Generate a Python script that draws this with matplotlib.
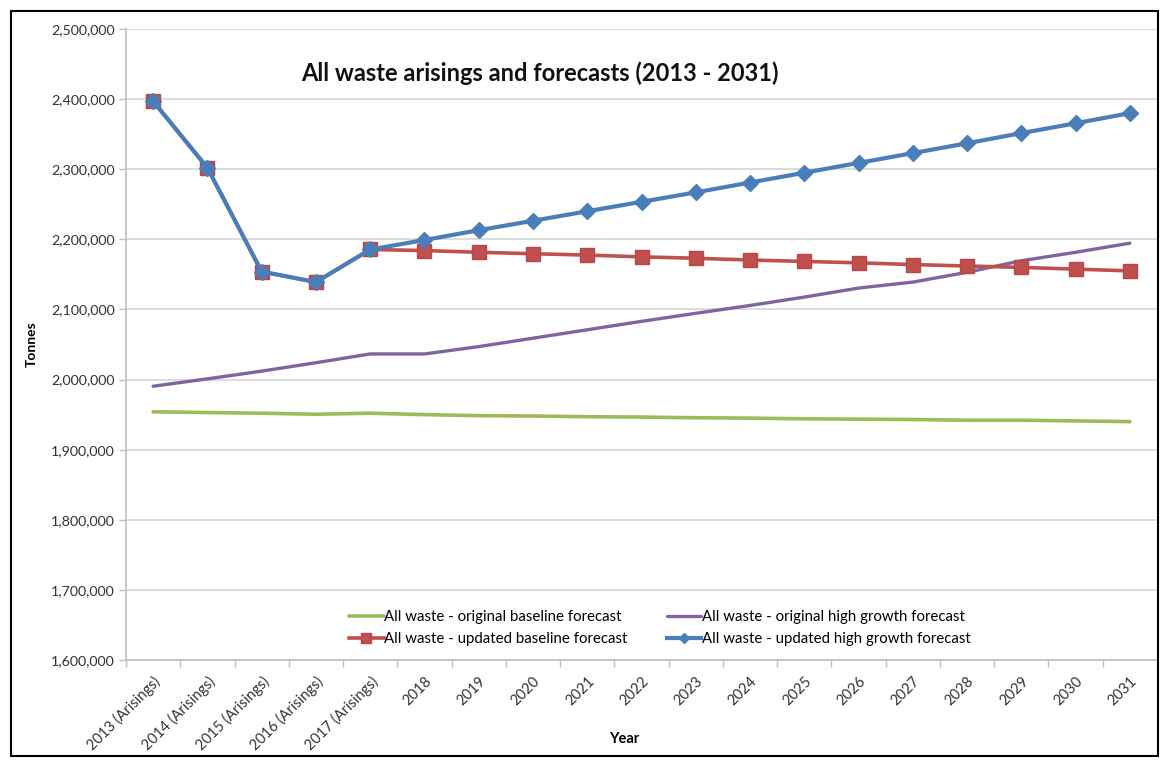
import matplotlib
matplotlib.use("Agg")
import matplotlib.pyplot as plt
from matplotlib.patches import Rectangle
from matplotlib.ticker import FuncFormatter, FixedLocator, NullFormatter

plt.rcParams['font.family'] = ['Lato', 'DejaVu Sans']

categories = ["2013 (Arisings)", "2014 (Arisings)", "2015 (Arisings)", "2016 (Arisings)",
              "2017 (Arisings)", "2018", "2019", "2020", "2021", "2022", "2023", "2024",
              "2025", "2026", "2027", "2028", "2029", "2030", "2031"]

orig_baseline = [1954000, 1953000, 1952000, 1950500, 1952000, 1950000, 1948500, 1948000,
                 1947000, 1946500, 1945500, 1945000, 1944000, 1943500, 1943000, 1942000,
                 1942000, 1941000, 1940000]
orig_high = [1990500, 2001000, 2012000, 2024000, 2036500, 2036500, 2047000, 2059000,
             2071000, 2083000, 2094500, 2105700, 2117600, 2130500, 2139000, 2153000,
             2169500, 2181500, 2194500]
upd_baseline = [2397000, 2302000, 2154000, 2139000, 2185500, 2184000, 2181500, 2179500,
                2177500, 2175000, 2173000, 2170500, 2168500, 2166500, 2164000, 2162000,
                2160000, 2157500, 2155000]
upd_high = [2397000, 2302000, 2154000, 2139000, 2185500, 2199000, 2213000, 2226500,
            2240000, 2253500, 2267000, 2281000, 2295000, 2309000, 2323000, 2337000,
            2351500, 2365500, 2380000]

labels = ["All waste - original baseline forecast",
          "All waste - updated baseline forecast",
          "All waste - original high growth forecast",
          "All waste - updated high growth forecast"]

fig = plt.figure(figsize=(11.61, 7.60), dpi=100)
ax = fig.add_axes([126/1161, 1 - 660/760, (1157 - 126)/1161, (660 - 29)/760])

x = list(range(len(categories)))
h_green, = ax.plot(x, orig_baseline, color="#9BBB59", lw=2.6, solid_capstyle="round", zorder=3)
h_purple, = ax.plot(x, orig_high, color="#8064A2", lw=2.4, solid_capstyle="round", zorder=3)
h_red, = ax.plot(x, upd_baseline, color="#C0504D", lw=2.6, marker="s", ms=10,
                 markerfacecolor="#C0504D", markeredgecolor="#B9474A", zorder=4)
h_blue, = ax.plot(x, upd_high, color="#4A7EBB", lw=3.0, marker="D", ms=8,
                  markerfacecolor="#4A7EBB", markeredgecolor="#4A7EBB", zorder=5)

ax.set_xlim(-0.5, len(categories) - 0.5)
ax.set_ylim(1600000, 2500000)
ax.set_yticks(range(1600000, 2500001, 100000))
ax.yaxis.set_major_formatter(FuncFormatter(lambda v, p: f"{int(v):,}"))
ax.grid(axis="y", color="#D9D9D9", lw=1.3, zorder=0)

ax.set_xticks(x)
ax.set_xticklabels(categories, rotation=45, ha="right", rotation_mode="anchor",
                   fontsize=10.5, color="#333333")
ax.tick_params(axis="x", length=0, pad=10)
ax.xaxis.set_minor_locator(FixedLocator([i + 0.5 for i in range(-1, len(categories))]))
ax.xaxis.set_minor_formatter(NullFormatter())
ax.tick_params(axis="x", which="minor", length=5, color="#BFBFBF", width=1)
ax.tick_params(axis="y", length=5, color="#BFBFBF", width=1, labelsize=10.3,
               labelcolor="#333333", pad=3)

for s in ["top", "right"]:
    ax.spines[s].set_visible(False)
ax.spines["left"].set_color("#BFBFBF")
ax.spines["bottom"].set_color("#BFBFBF")
ax.spines["left"].set_linewidth(1.2)
ax.spines["bottom"].set_linewidth(1.2)

ax.set_ylabel("Tonnes", fontsize=10, fontweight="bold")
ax.yaxis.set_label_coords(-(126 - 38)/(1157 - 126), 0.5)
ax.set_xlabel("Year", fontsize=10.5, fontweight="bold")
ax.xaxis.set_label_coords((624 - 126)/(1157 - 126), -(732 - 660)/(660 - 29))

fig.text(540/1161, 1 - 73/760, "All waste arisings and forecasts (2013 - 2031)",
         ha="center", va="center", fontsize=17, fontweight="bold", color="#111111")

leg = ax.legend([h_green, h_red, h_purple, h_blue], labels, ncol=2, frameon=False,
                fontsize=10.8, loc="center",
                bbox_to_anchor=((660 - 126)/(1157 - 126), (660 - 628)/(660 - 29)),
                handlelength=2.3, handletextpad=0.05, columnspacing=2.6, labelspacing=0.55,
                markerscale=0.65)

fig.add_artist(Rectangle((11/1161, 1 - 756/760), (1158 - 11)/1161, (756 - 11)/760,
                         transform=fig.transFigure, fill=False, edgecolor="black", lw=1.5))

fig.savefig("out.png", dpi=100)
